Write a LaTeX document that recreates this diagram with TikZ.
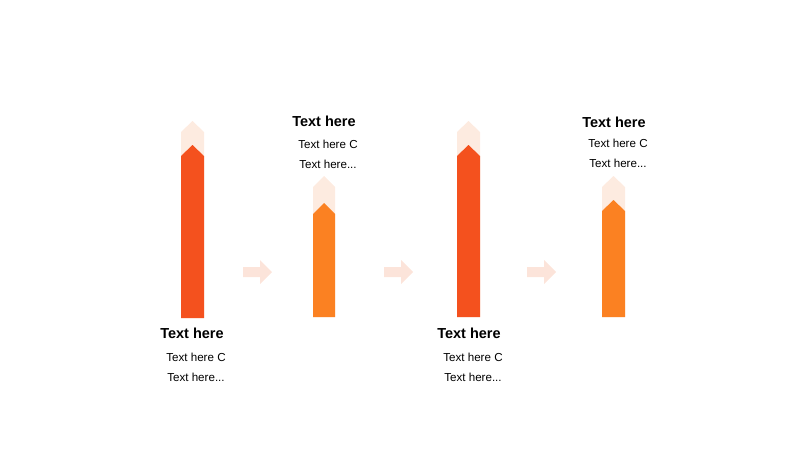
\documentclass[tikz,border=0pt]{standalone}
\usepackage{fontspec}
\setmainfont{Liberation Sans}
\definecolor{darkbar}{HTML}{F4511E}
\definecolor{orangebar}{HTML}{FB8122}
\definecolor{lightbar}{HTML}{FDEBE0}
\definecolor{arrowc}{HTML}{FCE4DA}
\tikzset{
  title/.style={font=\bfseries\fontsize{14.5}{16}\selectfont, inner sep=0pt, anchor=center},
  sub/.style={font=\fontsize{11.6}{13}\selectfont, inner sep=0pt, anchor=center},
}
\begin{document}
\begin{tikzpicture}[x=1pt,y=-1pt]
\useasboundingbox (0,0) rectangle (800,450);
% bar 1
\fill[lightbar] (181,318) -- (181,132) -- (192.5,121) -- (204,132) -- (204,318) -- cycle;
\fill[darkbar] (181,318) -- (181,156) -- (192.5,145) -- (204,156) -- (204,318) -- cycle;
% bar 2
\fill[lightbar] (313,317) -- (313,187) -- (324,176) -- (335,187) -- (335,317) -- cycle;
\fill[orangebar] (313,317) -- (313,214) -- (324,203) -- (335,214) -- (335,317) -- cycle;
% bar 3
\fill[lightbar] (457,317) -- (457,132) -- (468.5,121) -- (480,132) -- (480,317) -- cycle;
\fill[darkbar] (457,317) -- (457,156) -- (468.5,145) -- (480,156) -- (480,317) -- cycle;
% bar 4
\fill[lightbar] (602,317) -- (602,187) -- (613.5,176) -- (625,187) -- (625,317) -- cycle;
\fill[orangebar] (602,317) -- (602,211) -- (613.5,200) -- (625,211) -- (625,317) -- cycle;
% arrows
\foreach \x in {243,384,527}{
  \fill[arrowc] (\x,267) -- (\x+17,267) -- (\x+17,260) -- (\x+29,272) -- (\x+17,284) -- (\x+17,277) -- (\x,277) -- cycle;
}
% texts
\node[title] (t1) at (192,333) {Text here};
\node[sub] (a1) at (196,357) {Text here C};
\node[sub] (b1) at (196,377) {Text here...};
\node[title] (t2) at (324,121) {Text here};
\node[sub] (a2) at (328,144) {Text here C};
\node[sub] (b2) at (328,164) {Text here...};
\node[title] (t3) at (469,333) {Text here};
\node[sub] (a3) at (473,357) {Text here C};
\node[sub] (b3) at (473,377) {Text here...};
\node[title] (t4) at (614,122) {Text here};
\node[sub] (a4) at (618,143) {Text here C};
\node[sub] (b4) at (618,163) {Text here...};
\end{tikzpicture}
\end{document}
